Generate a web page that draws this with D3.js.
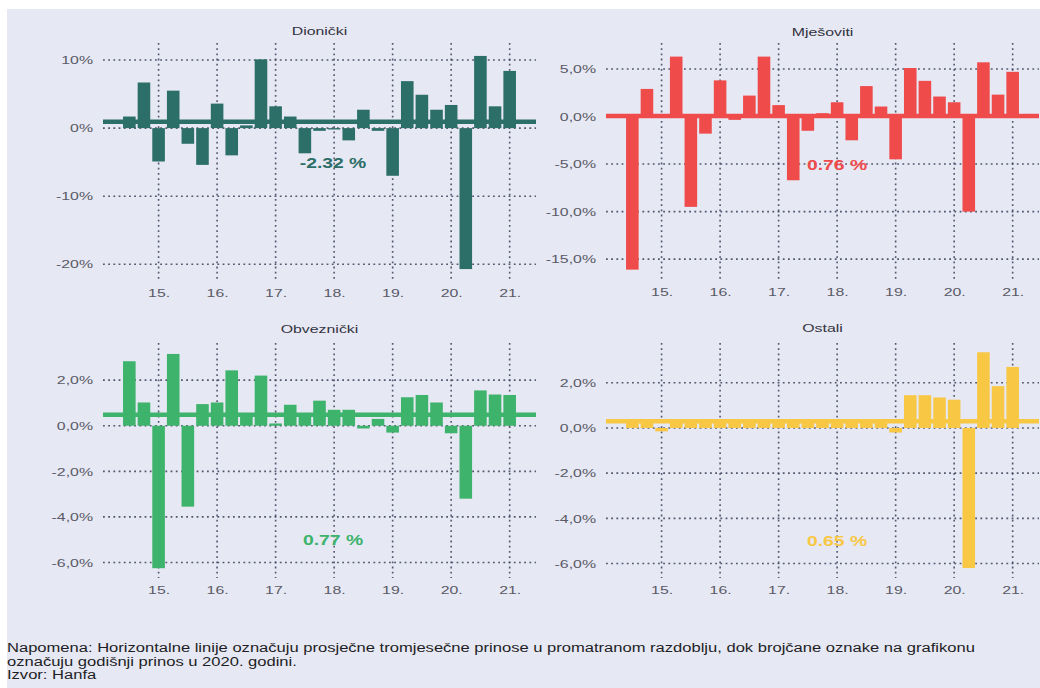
<!DOCTYPE html>
<html>
<head>
<meta charset="utf-8">
<script src="https://cdn.jsdelivr.net/npm/d3@7"></script>
<style>
  html, body { margin: 0; padding: 0; background: #ffffff; }
  svg { display: block; font-family: "Liberation Sans", Arial, sans-serif; }
</style>
</head>
<body>
<svg id="chart" width="1040" height="688"></svg>
<script>
// ---------- DATA ----------
const quarters = ["2014Q2","2014Q3","2014Q4","2015Q1","2015Q2","2015Q3","2015Q4",
  "2016Q1","2016Q2","2016Q3","2016Q4","2017Q1","2017Q2","2017Q3","2017Q4",
  "2018Q1","2018Q2","2018Q3","2018Q4","2019Q1","2019Q2","2019Q3","2019Q4",
  "2020Q1","2020Q2","2020Q3","2020Q4"];
const tickQuarters = ["2014Q4","2015Q4","2016Q4","2017Q4","2018Q4","2019Q4","2020Q4"];
const xTickLabels = ["15.","16.","17.","18.","19.","20.","21."];

const titles = ["Dionički","Mješoviti","Obveznički","Ostali"];

const dionicki = [1.7, 6.7, -4.9, 5.5, -2.3, -5.4, 3.6, -4.0, 0.4, 10.1, 3.2, 1.7, -3.7, -0.4,
  -0.2, -1.8, 2.7, -0.4, -7.0, 6.9, 4.9, 2.7, 3.4, -20.7, 10.6, 3.2, 8.4];
const mjesoviti = [-16.1, 2.9, -0.1, 6.3, -9.5, -1.8, 3.8, -0.35, 2.2, 6.3, 1.2, -6.7, -1.5, 0.35,
  1.5, -2.5, 3.2, 1.05, -4.5, 5.1, 3.75, 2.1, 1.5, -10.0, 5.7, 2.3, 4.7];
const obveznicki = [2.83, 1.02, -6.25, 3.15, -3.55, 0.95, 1.02, 2.43, 0.45, 2.2, 0.1, 0.92, 0.55, 1.1,
  0.7, 0.7, -0.12, 0.3, -0.3, 1.25, 1.35, 1.02, -0.33, -3.2, 1.55, 1.37, 1.35];
const ostali = [0.3, 0.35, -0.15, 0.3, 0.25, 0.3, 0.3, 0.25, 0.3, 0.3, 0.3, 0.25, 0.3, 0.3,
  0.3, 0.3, 0.3, 0.3, -0.2, 1.45, 1.45, 1.35, 1.25, -6.2, 3.35, 1.85, 2.7];

const averages = [0.93, 0.05, 0.48, 0.3];
const annualLabels = ["-2.32 %", "0.76 %", "0.77 %", "0.65 %"];

const yTicks1 = [10, 0, -10, -20];
const yTickLabels1 = ["10%", "0%", "-10%", "-20%"];
const yTicks2 = [5, 0, -5, -10, -15];
const yTickLabels2 = ["5,0%", "0,0%", "-5,0%", "-10,0%", "-15,0%"];
const yTicks34 = [2, 0, -2, -4, -6];
const yTickLabels34 = ["2,0%", "0,0%", "-2,0%", "-4,0%", "-6,0%"];

const footnote = [
  "Napomena: Horizontalne linije označuju prosječne tromjesečne prinose u promatranom razdoblju, dok brojčane oznake na grafikonu",
  "označuju godišnji prinos u 2020. godini.",
  "Izvor: Hanfa"
];

// ---------- LAYOUT / STYLE ----------
const colors = ["#2c6e68", "#ef4b4b", "#3db36b", "#f8c744"];
const SX = 1.38; // horizontal text stretch seen in the reference
const panels = [
  { values: dionicki, ticks: yTicks1, tickLabels: yTickLabels1, domain: [-22.6, 12.5],
    x0: 103, x1: 536, yTop: 43, yBot: 282, titleY: 31, xLabY: 298, labX: 333, labY: 168 },
  { values: mjesoviti, ticks: yTicks2, tickLabels: yTickLabels2, domain: [-17.4, 7.73],
    x0: 606, x1: 1039, yTop: 43, yBot: 282, titleY: 32, xLabY: 297, labX: 837, labY: 170 },
  { values: obveznicki, ticks: yTicks34, tickLabels: yTickLabels34, domain: [-6.68, 3.63],
    x0: 103, x1: 536, yTop: 343, yBot: 578, titleY: 329, xLabY: 595, labX: 333, labY: 545 },
  { values: ostali, ticks: yTicks34, tickLabels: yTickLabels34, domain: [-6.64, 3.76],
    x0: 606, x1: 1039, yTop: 343, yBot: 578, titleY: 328, xLabY: 595, labX: 837, labY: 546 }
];

const svg = d3.select("#chart");
svg.append("rect").attr("x", 7).attr("y", 9).attr("width", 1033).attr("height", 679)
  .attr("fill", "#e6e8f4");

const gridColor = "#3a3e56";

function stretchedText(parent, x, y, str) {
  return parent.append("text")
    .attr("transform", `translate(${x},${y}) scale(${SX},1)`)
    .text(str);
}

panels.forEach((p, i) => {
  const g = svg.append("g");
  const x = d3.scalePoint().domain(quarters).range([p.x0, p.x1]).padding(1.8);
  const y = d3.scaleLinear().domain(p.domain).range([p.yBot, p.yTop]);
  const bw = x.step() * 0.86;

  // horizontal grid
  g.selectAll("line.hg").data(p.ticks).join("line")
    .attr("x1", p.x0).attr("x2", p.x1)
    .attr("y1", d => y(d)).attr("y2", d => y(d))
    .attr("stroke", gridColor).attr("stroke-width", 1.6)
    .attr("stroke-dasharray", "1.8,3.4").attr("opacity", 0.85);

  // vertical grid
  g.selectAll("line.vg").data(tickQuarters).join("line")
    .attr("x1", d => x(d)).attr("x2", d => x(d))
    .attr("y1", p.yTop).attr("y2", p.yBot)
    .attr("stroke", gridColor).attr("stroke-width", 1.6)
    .attr("stroke-dasharray", "1.8,3.4").attr("opacity", 0.85);

  // bars
  g.selectAll("rect.bar").data(p.values).join("rect")
    .attr("x", (d, k) => x(quarters[k]) - bw / 2)
    .attr("width", bw)
    .attr("y", d => y(Math.max(0, d)))
    .attr("height", d => Math.abs(y(d) - y(0)))
    .attr("fill", colors[i]);

  // average line
  g.append("line")
    .attr("x1", p.x0).attr("x2", p.x1)
    .attr("y1", y(averages[i])).attr("y2", y(averages[i]))
    .attr("stroke", colors[i]).attr("stroke-width", 4.5);

  // y axis labels
  const yAxis = d3.axisLeft(y).tickValues(p.ticks).tickFormat((d, k) => p.tickLabels[k])
    .tickSize(0).tickPadding(0);
  const ya = g.append("g").attr("transform", `translate(${p.x0 - 10},0)`).call(yAxis);
  ya.select(".domain").remove();
  ya.selectAll("text").attr("fill", "#5a5a66").style("font-size", "11.5px")
    .style("font-family", "'Liberation Sans', Arial, sans-serif")
    .attr("transform", `scale(${SX},1)`);

  // x axis labels
  const xAxis = d3.axisBottom(x).tickValues(tickQuarters)
    .tickFormat((d, k) => xTickLabels[k]).tickSize(0).tickPadding(0);
  const xa = g.append("g").attr("transform", `translate(0,${p.xLabY - 9})`).call(xAxis);
  xa.select(".domain").remove();
  xa.selectAll("text").attr("fill", "#5a5a66").style("font-size", "11.5px")
    .style("font-family", "'Liberation Sans', Arial, sans-serif")
    .attr("transform", `scale(${SX},1)`);

  // title
  stretchedText(g, (p.x0 + p.x1) / 2, p.titleY + 4, titles[i])
    .attr("text-anchor", "middle").attr("fill", "#333340").style("font-size", "11.5px");

  // annual label
  stretchedText(g, p.labX, p.labY, annualLabels[i])
    .attr("text-anchor", "middle").attr("fill", colors[i])
    .style("font-size", "14px").style("font-weight", "bold");
});

// footnote
footnote.forEach((d, k) => {
  stretchedText(svg, 7, 652 + k * 13.5, d)
    .attr("fill", "#1e1e24").style("font-size", "12px");
});
</script>
</body>
</html>
